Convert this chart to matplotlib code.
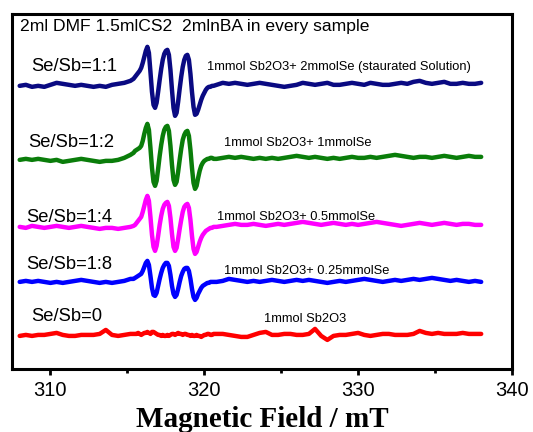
import matplotlib
matplotlib.use("Agg")
import numpy as np
from matplotlib import pyplot as plt

# shared field axis (mT): coarse baseline, fine around the triplet, coarse baseline
x_left = [308.0, 308.4, 308.8, 309.2, 309.6, 310.0, 310.4, 310.8, 311.2, 311.6,
          312.0, 312.4, 312.8, 313.2, 313.6, 314.0, 314.4, 314.8, 315.2]
x_mid = [315.4, 315.5, 315.6, 315.7, 315.8, 315.9, 316.0, 316.1, 316.2, 316.3,
         316.4, 316.5, 316.6, 316.7, 316.8, 316.9, 317.0, 317.1, 317.2, 317.3,
         317.4, 317.5, 317.6, 317.7, 317.8, 317.9, 318.0, 318.1, 318.2, 318.3,
         318.4, 318.5, 318.6, 318.7, 318.8, 318.9, 319.0, 319.1, 319.2, 319.3,
         319.4, 319.5, 319.6, 319.7, 319.8, 319.9, 320.0, 320.1, 320.2, 320.3,
         320.4, 320.5, 320.6]
x_right = [320.8, 321.2, 321.6, 322.0, 322.4, 322.8, 323.2, 323.6, 324.0, 324.4,
           324.8, 325.2, 325.6, 326.0, 326.4, 326.8, 327.2, 327.6, 328.0, 328.4,
           328.8, 329.2, 329.6, 330.0, 330.4, 330.8, 331.2, 331.6, 332.0, 332.4,
           332.8, 333.2, 333.6, 334.0, 334.4, 334.8, 335.2, 335.6, 336.0, 336.4,
           336.8, 337.2, 337.6, 338.0]
field = x_left + x_mid + x_right

# Se/Sb = 1:1 (navy)
s11 = ([0, 1, -1, 0, -1, 1, 3, 2, 1, 0, 1, 0, -1, 0, -1, 1, 2, 3, 5]
       + [7, 9, 11, 13, 15, 18, 23, 29, 35, 39,
          33, 14, -6, -19, -22, -17, -6, 6, 17, 26,
          32, 35, 36, 31, 16, -4, -22, -30, -27, -16,
          -3, 9, 19, 26, 30, 31, 26, 12, -6, -21,
          -29, -28, -24, -19, -14, -10, -7, -4, -2, -1,
          -1, 0, 0]
       + [1, 3, 2, 3, 2, 1, 2, 3, 2, 1, 0, -1, 0, 1, 3, 2, 1, 2, 3, 1,
          1, 2, 3, 2, 1, 3, 2, 1, 1, 2, 3, 2, 4, 5, 3, 2, 3, 4, 2, 2,
          3, 2, 2, 3])

# Se/Sb = 1:2 (green)
s12 = ([0, 1, 0, 1, 0, -1, 0, -2, -1, 0, 1, 0, -1, -2, -1, -1, 0, 2, 5]
       + [7, 9, 10, 11, 12, 14, 19, 26, 32, 36,
          30, 12, -8, -22, -26, -21, -9, 4, 15, 24,
          30, 33, 34, 29, 14, -5, -20, -25, -22, -12,
          0, 11, 20, 25, 28, 29, 24, 10, -8, -23,
          -29, -26, -18, -11, -6, -3, -1, 0, 1, 1,
          2, 2, 1]
       + [1, 2, 3, 2, 3, 2, 1, 2, 1, 2, 1, 2, 3, 4, 3, 2, 3, 2, 1, 2,
          1, 2, 3, 2, 2, 3, 2, 3, 4, 5, 4, 3, 2, 3, 3, 2, 3, 4, 3, 2,
          3, 4, 3, 3])

# Se/Sb = 1:4 (magenta)
s14 = ([0, -1, 1, 0, -1, 0, 1, 0, -1, 0, 1, 0, -1, -2, -1, -1, -2, -1, 0]
       + [1, 2, 4, 6, 8, 10, 15, 21, 27, 31,
          26, 10, -8, -20, -24, -19, -9, 2, 11, 18,
          22, 24, 25, 21, 9, -7, -20, -24, -21, -12,
          -2, 7, 15, 20, 22, 23, 19, 7, -9, -22,
          -27, -25, -20, -15, -11, -8, -6, -4, -3, -2,
          -1, -1, 0]
       + [0, 1, 2, 3, 2, 2, 3, 2, 1, 2, 3, 2, 3, 4, 5, 4, 3, 2, 3, 4,
          3, 2, 3, 2, 3, 4, 5, 4, 3, 2, 1, 2, 3, 4, 3, 2, 3, 4, 3, 2,
          3, 3, 2, 2])

# Se/Sb = 1:8 (blue)
s18 = ([0, 1, 0, 1, 0, -1, 0, -1, 0, 1, 2, 1, 0, -1, 0, -1, 0, 1, 3]
       + [3, 4, 5, 6, 7, 8, 11, 15, 19, 21,
          17, 6, -6, -13, -14, -11, -4, 3, 9, 14,
          17, 19, 19, 16, 7, -4, -12, -15, -13, -7,
          0, 6, 10, 13, 14, 14, 11, 3, -7, -15,
          -18, -16, -12, -9, -6, -4, -3, -2, -1, -1,
          0, 0, 0]
       + [0, 1, 3, 2, 1, 0, 1, 0, 1, 2, 1, 0, 1, 2, 1, 2, 1, 0, -1, 0,
          1, 0, 1, 2, 3, 2, 1, 0, 1, 2, 1, 2, 3, 2, 3, 4, 3, 2, 1, 2,
          1, 0, 1, 0])

# Se/Sb = 0 (red)
s0 = ([0, 1, 0, 1, 1, 2, 3, 1, 0, 0, 1, 1, 1, 2, 6, 1, 0, 1, 2]
      + [2, 2, 2, 3, 2, 1, 2, 3, 3, 4,
         3, 2, 4, 4, 3, 2, 1, 1, 0, 1,
         0, 0, 1, 0, 1, 2, 2, 1, 2, 3,
         2, 2, 1, 2, 2, 1, 1, 0, 1, 0,
         0, 1, 0, 0, -1, 0, 1, 1, 2, 2,
         1, 1, 2]
      + [2, 2, 1, 0, -1, -1, 1, 3, 4, 1, 1, 2, 2, 1, 1, 2, 7, 0, -4, 0,
         1, 1, 2, 3, 1, 0, 1, 2, 2, 1, 1, 1, 2, 5, 3, 2, 3, 2, 2, 2,
         3, 2, 2, 2])

spectra = [s11, s12, s14, s18, s0]
offsets = [283, 209, 142, 87, 33]
colors = ["#0a0a82", "#0a7d0a", "#ff00ff", "#0000ff", "#ff0000"]
ratio_labels = ["Se/Sb=1:1", "Se/Sb=1:2", "Se/Sb=1:4", "Se/Sb=1:8", "Se/Sb=0"]
sample_labels = ["1mmol Sb2O3+ 2mmolSe (staurated Solution)",
                 "1mmol Sb2O3+ 1mmolSe",
                 "1mmol Sb2O3+ 0.5mmolSe",
                 "1mmol Sb2O3+ 0.25mmolSe",
                 "1mmol Sb2O3"]

plt.rcParams["font.family"] = ["Liberation Sans", "DejaVu Sans"]
fig = plt.figure(figsize=(5.33, 4.32), dpi=100)
ax = fig.add_axes([0.0225, 0.146, 0.938, 0.822])

for s, off, c in zip(spectra, offsets, colors):
    ax.plot(field, np.array(s) + off, color=c, lw=3.2, solid_capstyle="round")

# labels: ratio on the left, composition to the right of the triplet
ratio_pos = [(308.77, 302), (308.57, 226), (308.44, 151), (308.44, 104), (308.77, 52)]
sample_pos = [(320.19, 302), (321.3, 226), (320.84, 152), (321.3, 98), (323.9, 50)]
for lab, (px, py) in zip(ratio_labels, ratio_pos):
    ax.text(px, py, lab, fontsize=13.2, va="center", ha="left")
for lab, (px, py) in zip(sample_labels, sample_pos):
    ax.text(px, py, lab, fontsize=9.3, va="center", ha="left")
ax.text(307.99, 342, "2ml DMF 1.5mlCS2  2mlnBA in every sample",
        fontsize=12.6, va="center", ha="left")

ax.set_xlim(307.5, 340)
ax.set_ylim(0, 355)
ax.set_xticks([310, 320, 330, 340])
ax.set_xticks([315, 325, 335], minor=True)
ax.set_yticks([])
ax.tick_params(axis="x", which="major", direction="out", length=4, width=2,
               labelsize=14.5, pad=5)
ax.tick_params(axis="x", which="minor", direction="out", length=3, width=2)
for sp in ax.spines.values():
    sp.set_linewidth(2.2)
ax.set_xlabel("Magnetic Field / mT", family=["Liberation Serif", "DejaVu Serif"],
              fontweight="bold", fontsize=21, labelpad=4)

fig.savefig("out.png", dpi=100)
